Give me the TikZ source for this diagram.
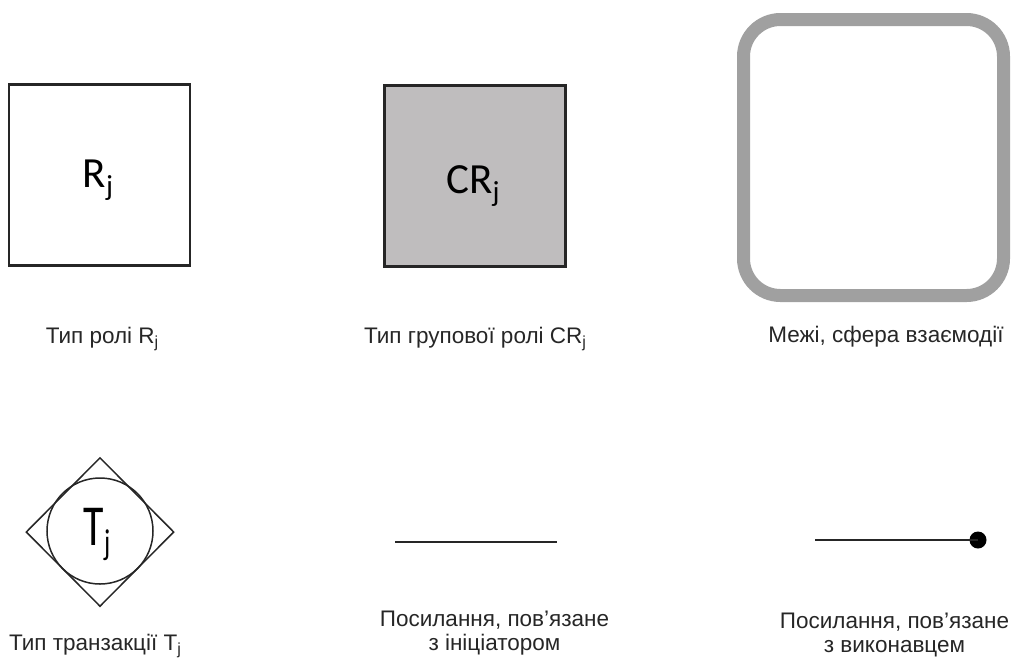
\documentclass[tikz,border=0pt]{standalone}
\usepackage{fontspec}
\setmainfont{Liberation Sans}
\newfontfamily\symfont{Carlito}
\usetikzlibrary{shapes.geometric}
\definecolor{groupfill}{HTML}{BFBDBE}
\definecolor{bordergray}{HTML}{A0A0A0}
\newcommand\lsub[1]{\raisebox{-0.35ex}{\fontsize{16}{16}\selectfont #1}}
\newcommand\bsub[1]{\raisebox{-0.4ex}{\fontsize{29}{29}\selectfont #1}}
\begin{document}
\begin{tikzpicture}[x=1pt,y=-1pt,
  rolebox/.style={draw=black!85, line width=2.2pt, rectangle, minimum width=181pt, minimum height=181pt, inner sep=0pt},
  symtext/.style={anchor=base, inner sep=0pt, font=\symfont\fontsize{43}{43}\selectfont},
  caption/.style={anchor=base, inner sep=0pt, align=center, font=\fontsize{22.5}{23.5}\selectfont, text=black!85},
  thinline/.style={draw=black!85, line width=1.5pt},
  linkline/.style={draw=black!85, line width=2pt}
]
\useasboundingbox (0,0) rectangle (1014,657);

% role type
\node[rolebox] (role) at (99.5,175) {};
\node[symtext] (roletxt) at (98,187) {R\bsub{j}};
\node[caption] (rolecap) at (102,343) {Тип ролі R\lsub{j}};

% group role type
\node[rolebox, fill=groupfill] (group) at (475,176) {};
\node[symtext] (grouptxt) at (473,193) {CR\bsub{j}};
\node[caption] (groupcap) at (475,343) {Тип групової ролі CR\lsub{j}};

% boundary, sphere of interaction
\draw[draw=bordergray, line width=13pt, rounded corners=37pt] (743.5,19.5) rectangle (1003.5,295.5);
\node[caption] (boundcap) at (886,342) {Межі, сфера взаємодії};

% transaction type
\node[thinline, shape=diamond, aspect=1, minimum width=148pt, minimum height=149pt, inner sep=0pt] (trdiam) at (100,532) {};
\node[thinline, shape=circle, minimum size=106pt, inner sep=0pt] (trcirc) at (100,531) {};
\node[anchor=base, inner sep=0pt] (trtxt) at (97,545) {\scalebox{0.72}[1]{\symfont\fontsize{58}{58}\selectfont T\raisebox{-0.35ex}{\fontsize{36}{36}\selectfont j}}};
\node[caption] (trcap) at (95,650) {Тип транзакції T\lsub{j}};

% link connected to the initiator
\coordinate (ini1) at (395,542);
\coordinate (ini2) at (557,542);
\draw[linkline] (ini1) -- (ini2);
\node[caption] (inicap) at (494.5,650) {Посилання, пов’язане\\з ініціатором};

% link connected to the executor
\coordinate (exe1) at (815,540);
\node[circle, fill=black, inner sep=0pt, minimum size=17pt] (exedot) at (978,540) {};
\draw[linkline] (exe1) -- (exedot.center);
\node[caption] (execap) at (894.5,652) {Посилання, пов’язане\\з виконавцем};
\end{tikzpicture}
\end{document}
